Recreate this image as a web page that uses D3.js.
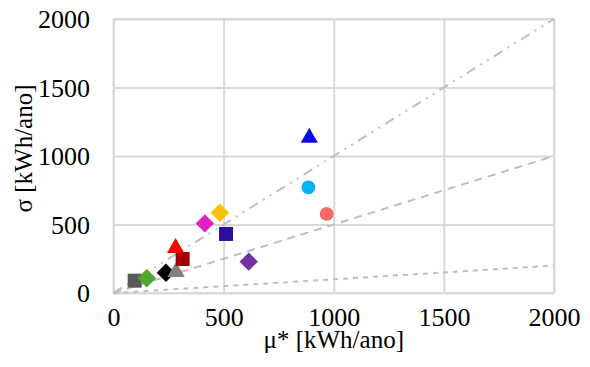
<!DOCTYPE html>
<html><head><meta charset="utf-8">
<script src="https://cdn.jsdelivr.net/npm/d3@7"></script>
</head><body style="margin:0;background:#fff"><svg id="c" width="590" height="367"></svg>
<script>
const xTicks = [0, 500, 1000, 1500, 2000];
const yTicks = [0, 500, 1000, 1500, 2000];
const refSlopes = [1, 0.5, 0.1];
const refDash = ["10,6,2,6,2,6", "8,6", "5,5"];
const pointX = [96, 151, 238, 284, 314, 282, 415, 483, 511, 614, 885, 968, 889];
const pointY = [90, 107, 148, 168, 248, 343, 508, 586, 431, 229, 771, 577, 1148];
const pointShape = ["square","diamond","diamond","triangle","square","triangle","diamond","diamond","square","diamond","circle","circle","triangle"];
const pointColor = ["#595959","#4ea72e","#000000","#808080","#a50000","#ff0000","#e020c0","#ffc000","#2e0ea0","#7030a0","#00b0f0","#f86868","#0c0ce8"];

const FONT = "Liberation Serif";
const svg = d3.select("#c");
const m = {l:113.5, r:554, t:19, b:293};
const x = d3.scaleLinear().domain([0,2000]).range([m.l, m.r]);
const y = d3.scaleLinear().domain([0,2000]).range([m.b, m.t]);
const grid = "#d9d9d9";

const xa = svg.append("g").attr("transform",`translate(0,${m.b})`)
  .call(d3.axisBottom(x).tickValues(xTicks).tickSize(-(m.b-m.t)).tickPadding(0).tickFormat(d3.format("d")));
const ya = svg.append("g").attr("transform",`translate(${m.l},0)`)
  .call(d3.axisLeft(y).tickValues(yTicks).tickSize(-(m.r-m.l)).tickPadding(0).tickFormat(d3.format("d")));
[xa,ya].forEach(a=>{
  a.attr("font-family",FONT).attr("font-size",26);
  a.select(".domain").remove();
  a.selectAll("line").attr("stroke",grid).attr("stroke-width",2);
  a.selectAll("text").attr("font-family",FONT).attr("font-size",26).attr("fill","#000");
});
ya.selectAll("text").attr("x",-23.5).attr("dy","8.5px");
xa.selectAll("text").attr("y",33).attr("dy","0");

svg.append("rect").attr("x",m.l).attr("y",m.t).attr("width",m.r-m.l).attr("height",m.b-m.t)
  .attr("fill","none").attr("stroke",grid).attr("stroke-width",2);

refSlopes.forEach((s,i)=>{
  svg.append("line").attr("x1",x(0)).attr("y1",y(0)).attr("x2",x(2000)).attr("y2",y(2000*s))
    .attr("stroke","#bfbfbf").attr("stroke-width",2).attr("stroke-dasharray",refDash[i]);
});

const sym = {square:d3.symbolSquare, diamond:d3.symbolSquare, triangle:d3.symbolTriangle, circle:d3.symbolCircle};
const size = {square:196, diamond:170, triangle:130, circle:150};
svg.append("g").selectAll("path").data(pointX.map((v,i)=>i)).join("path")
  .attr("d", i=>d3.symbol().type(sym[pointShape[i]]).size(size[pointShape[i]])())
  .attr("transform", i=>`translate(${x(pointX[i])},${y(pointY[i]) + (pointShape[i]==="triangle"?2:0)})` + (pointShape[i]==="diamond"?" rotate(45)":""))
  .attr("fill", i=>pointColor[i]);

svg.append("text").attr("x",(m.l+m.r)/2).attr("y",348).attr("text-anchor","middle")
  .attr("font-family",FONT).attr("font-size",25).text("μ* [kWh/ano]");
svg.append("text").attr("transform","translate(32,148.5) rotate(-90)").attr("text-anchor","middle")
  .attr("font-family",FONT).attr("font-size",25).text("σ [kWh/ano]");
</script></body></html>
